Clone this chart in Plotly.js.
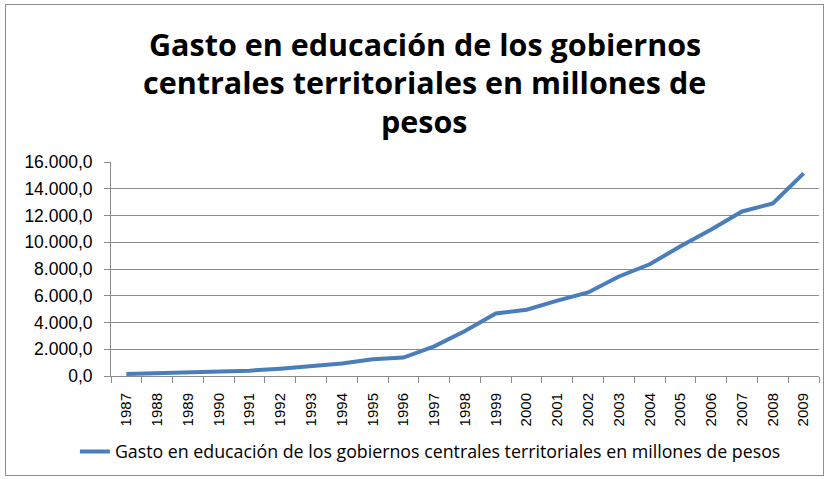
<!DOCTYPE html>
<html>
<head>
<meta charset="utf-8">
<script src="https://cdn.plot.ly/plotly-3.0.1.min.js"></script>
<style>
html,body{margin:0;padding:0;background:#fff;}
#wrap{position:relative;width:828px;height:479px;}
#chart{width:828px;height:479px;}
#frame{position:absolute;left:5px;top:4px;width:817px;height:470px;border:1px solid #8c8c8c;pointer-events:none;}
</style>
</head>
<body>
<div id="wrap"><div id="chart"></div><div id="frame"></div></div>
<script>
const years = ['1987','1988','1989','1990','1991','1992','1993','1994','1995','1996','1997','1998','1999','2000','2001','2002','2003','2004','2005','2006','2007','2008','2009'];
const gasto = [150, 200, 250, 320, 400, 550, 720, 940, 1260, 1380, 2220, 3360, 4680, 4960, 5630, 6250, 7440, 8350, 9700, 10950, 12300, 12900, 15150];
const seriesName = 'Gasto en educación de los gobiernos centrales territoriales en millones de pesos';
const titleLines = ['Gasto en educación de los gobiernos', 'centrales territoriales en millones de', 'pesos'];
const titleLineY = [1.553, 1.372, 1.19];

const trace = {
  x: years, y: gasto, type: 'scatter', mode: 'lines', name: seriesName,
  line: {color: '#4a7ebb', width: 4}
};
const titleAnns = titleLines.map((t, i) => ({
  text: '<b>' + t + '</b>', xref: 'paper', yref: 'paper',
  x: 0.443, y: titleLineY[i], xanchor: 'center', yanchor: 'middle', showarrow: false,
  font: {family: 'Open Sans, Liberation Sans, sans-serif', size: 30.5, color: '#000'}
}));
const layout = {
  width: 828, height: 479,
  margin: {l: 111, r: 9, t: 162, b: 101},
  paper_bgcolor: '#ffffff', plot_bgcolor: '#ffffff',
  separators: ',.',
  annotations: titleAnns,
  xaxis: {
    type: 'category', range: [-0.5, 22.5], tickson: 'boundaries',
    ticks: 'outside', ticklen: 6, tickcolor: '#8c8c8c',
    showline: true, linecolor: '#8c8c8c', linewidth: 1,
    showgrid: false, tickangle: -90, ticklabelstandoff: 10,
    tickfont: {family: 'Liberation Sans, Arial, sans-serif', size: 15, color: '#000'}
  },
  yaxis: {
    range: [0, 16000], dtick: 2000, tickformat: ',.1f',
    ticks: 'outside', ticklen: 6, tickcolor: '#8c8c8c',
    showline: true, linecolor: '#8c8c8c', linewidth: 1, ticklabelstandoff: 8,
    showgrid: true, gridcolor: '#8c8c8c', gridwidth: 1, zeroline: false,
    tickfont: {family: 'Liberation Sans, Arial, sans-serif', size: 17.5, color: '#000'}
  },
  showlegend: true,
  legend: {
    orientation: 'h', x: -0.051, xanchor: 'left', y: -0.355, yanchor: 'middle',
    font: {family: 'Open Sans, Liberation Sans, sans-serif', size: 17.8, color: '#000'},
    bgcolor: 'rgba(0,0,0,0)'
  }
};
Plotly.newPlot('chart', [trace], layout, {displayModeBar: false, staticPlot: true});
</script>
</body>
</html>
